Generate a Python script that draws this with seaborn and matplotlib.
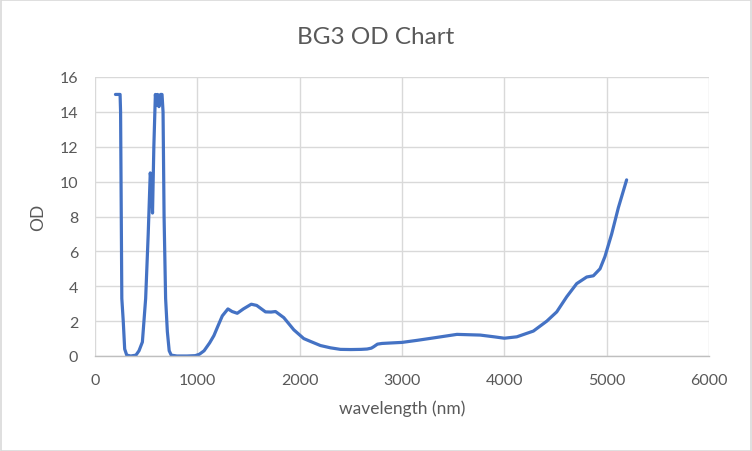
import matplotlib
matplotlib.use("Agg")
import matplotlib.pyplot as plt
import seaborn as sns
import pandas as pd

wavelength = [200, 245, 250, 262, 276, 290, 310, 350, 400, 430, 463, 495, 520, 540,
              550, 562, 575, 590, 600, 612, 625, 640, 655, 665, 675, 690, 707, 725,
              745, 800, 900, 980, 1020, 1066, 1120, 1162, 1200, 1244, 1299, 1340,
              1390, 1450, 1527, 1580, 1666, 1720, 1764, 1845, 1943, 2040, 2100, 2203,
              2300, 2398, 2500, 2600, 2659, 2700, 2723, 2760, 2805, 2900, 3000, 3150,
              3300, 3537, 3764, 3900, 4000, 4122, 4284, 4415, 4512, 4610, 4707, 4805,
              4870, 4935, 4983, 5049, 5114, 5195]
od = [15.0, 15.0, 14.0, 3.3, 2.0, 0.4, 0.05, 0.0, 0.05, 0.3, 0.8, 3.3, 7.0, 10.5,
      10.0, 8.2, 12.0, 15.0, 14.4, 15.0, 14.3, 15.0, 15.0, 14.0, 8.0, 3.3, 1.4, 0.3,
      0.05, 0.0, 0.0, 0.02, 0.1, 0.3, 0.75, 1.17, 1.7, 2.3, 2.7, 2.55,
      2.45, 2.7, 2.97, 2.9, 2.53, 2.52, 2.55, 2.2, 1.5, 1.0, 0.85, 0.6,
      0.47, 0.38, 0.37, 0.38, 0.4, 0.45, 0.53, 0.68, 0.72, 0.75, 0.78, 0.9,
      1.03, 1.24, 1.2, 1.1, 1.02, 1.1, 1.43, 2.0, 2.53, 3.4, 4.15, 4.53,
      4.6, 5.0, 5.7, 7.0, 8.5, 10.1]

title = "BG3 OD Chart"
xlabel = "wavelength (nm)"
ylabel = "OD"
xticks = [0, 1000, 2000, 3000, 4000, 5000, 6000]
yticks = [0, 2, 4, 6, 8, 10, 12, 14, 16]

df = pd.DataFrame({"wavelength": wavelength, "OD": od})

sns.set_theme(style="white")
plt.rcParams["font.family"] = ["Lato", "DejaVu Sans"]

fig = plt.figure(figsize=(7.52, 4.52), dpi=100)
ax = fig.add_axes([95 / 752, (452 - 357) / 452, (709 - 95) / 752, (357 - 78) / 452])

sns.lineplot(data=df, x="wavelength", y="OD", ax=ax, color="#4472C4",
             linewidth=2.3, estimator=None, sort=False)

ax.set_xlim(0, 6000)
ax.set_ylim(0, 16)
ax.set_xticks(xticks)
ax.set_yticks(yticks)
ax.grid(True, color="#D9D9D9", linewidth=1.0)
ax.set_axisbelow(True)
for s in ["top", "right", "left"]:
    ax.spines[s].set_visible(False)
ax.spines["bottom"].set_color("#BFBFBF")
ax.spines["bottom"].set_linewidth(1.0)
ax.tick_params(axis="both", length=0, labelsize=11.5, labelcolor="#595959")
ax.tick_params(axis="x", pad=12)
ax.tick_params(axis="y", pad=12)

ax.set_xlabel(xlabel, fontsize=12.5, color="#595959", labelpad=9)
ax.set_ylabel(ylabel, fontsize=12.5, color="#595959", labelpad=10)
fig.text(0.5, 1 - 37 / 452, title, ha="center", va="center", fontsize=17.5, color="#595959")

fig.patches.append(plt.Rectangle((0.001, 0.001), 0.998, 0.997, transform=fig.transFigure,
                                 fill=False, edgecolor="#D9D9D9", linewidth=1.2))

fig.savefig("out.png", dpi=100, facecolor="white")
